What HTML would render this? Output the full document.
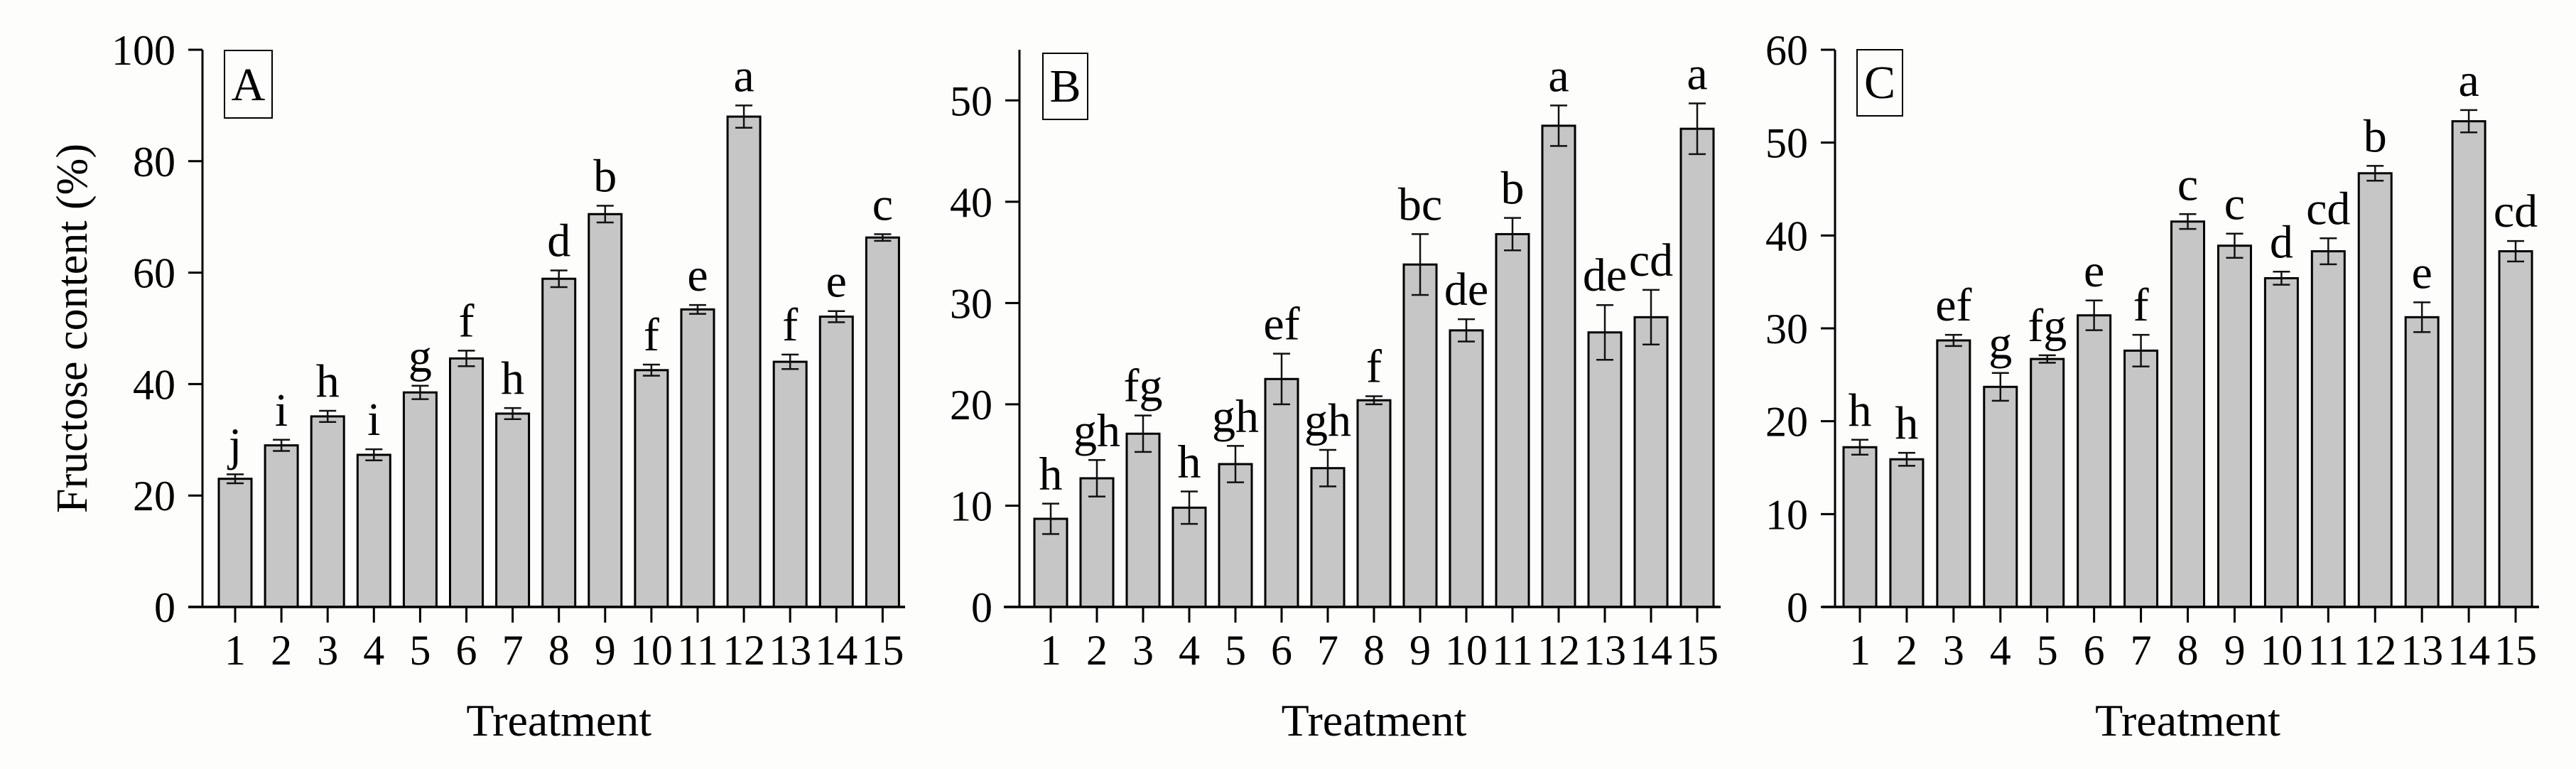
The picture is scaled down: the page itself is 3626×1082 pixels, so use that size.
<!DOCTYPE html>
<html><head><meta charset="utf-8"><style>
html,body{margin:0;padding:0;background:#fdfdfc;}
svg{display:block;font-family:"Liberation Serif",serif;}
</style></head><body>
<svg id="chart" width="3626" height="1082" viewBox="0 0 3626 1082" xmlns="http://www.w3.org/2000/svg">
<rect width="3626" height="1082" fill="#fdfdfc"/>
<text x="0" y="0" transform="translate(122,462) rotate(-90)" font-size="62" text-anchor="middle">Fructose content (%)</text>
</svg>
<script>
const categories = ["1","2","3","4","5","6","7","8","9","10","11","12","13","14","15"];
const valuesA = [23,29,34.2,27.3,38.5,44.6,34.7,58.9,70.5,42.5,53.4,88,44,52.1,66.3];
const errorsA = [0.8,1,1,1,1.2,1.4,1,1.5,1.5,1,0.8,2,1.3,1,0.6];
const lettersA = ["j","i","h","i","g","f","h","d","b","f","e","a","f","e","c"];
const ticksA = [0,20,40,60,80,100];
const valuesB = [8.7,12.7,17.1,9.8,14.1,22.5,13.7,20.4,33.8,27.3,36.8,47.5,27.1,28.6,47.2];
const errorsB = [1.5,1.8,1.8,1.6,1.8,2.5,1.8,0.4,3,1.1,1.6,2,2.7,2.7,2.5];
const lettersB = ["h","gh","fg","h","gh","ef","gh","f","bc","de","b","a","de","cd","a"];
const ticksB = [0,10,20,30,40,50];
const valuesC = [17.2,15.9,28.7,23.7,26.7,31.4,27.6,41.5,38.9,35.4,38.3,46.7,31.2,52.3,38.3];
const errorsC = [0.8,0.7,0.6,1.5,0.4,1.6,1.7,0.8,1.3,0.7,1.4,0.8,1.6,1.2,1.1];
const lettersC = ["h","h","ef","g","fg","e","f","c","c","d","cd","b","e","a","cd"];
const ticksC = [0,10,20,30,40,50,60];

const svg = document.getElementById('chart');
const NS = "http://www.w3.org/2000/svg";
function mk(tag, attrs, parent){
  const e = document.createElementNS(NS, tag);
  for (const k in attrs) e.setAttribute(k, attrs[k]);
  (parent||svg).appendChild(e);
  return e;
}
const panels = [
  {id:"a", label:"A", vals:valuesA, errs:errorsA, lets:lettersA, ticks:ticksA, ymax:100, axisX:285, x0:265, x1:1274, first:331, step:65.1, box:[316,71,383,166]},
  {id:"b", label:"B", vals:valuesB, errs:errorsB, lets:lettersB, ticks:ticksB, ymax:55, axisX:1435, x0:1413, x1:2422, first:1479, step:65.0, box:[1468,75,1531,168]},
  {id:"c", label:"C", vals:valuesC, errs:errorsC, lets:lettersC, ticks:ticksC, ymax:60, axisX:2583, x0:2565, x1:3574, first:2618, step:65.93, box:[2614,70,2678,163]}
];
const yTop = 70, yBot = 854;
panels.forEach(p => {
  const g = mk('g', {});
  
  
  const yScale = v => yBot - (v / p.ymax) * (yBot - yTop);
  const xScale = i => p.first + i * p.step;
  const bw = 46;
  p.vals.forEach((v, i) => {
    const cx = xScale(i), y = yScale(v);
    const r = mk('rect', {x: cx - bw/2, y: y, width: bw, height: yBot - y, fill: '#c6c6c6', stroke: '#000', 'stroke-width': 3}, g);
    
    
    const e = p.errs[i], yt = yScale(v + e), yb = yScale(v - e);
    const eb = mk('path', {d: `M${cx},${yt}V${yb}M${cx-12},${yt}H${cx+12}M${cx-12},${yb}H${cx+12}`, stroke: '#111', 'stroke-width': 2.5, fill: 'none'}, g);
    
    
    const t = mk('text', {x: cx, y: yt - 20, 'font-size': 66, 'text-anchor': 'middle'}, g);
    t.textContent = p.lets[i];
    
    
    const tk = mk('line', {x1: cx, x2: cx, y1: yBot, y2: yBot + 22, stroke: '#000', 'stroke-width': 3}, g);
    
    
    const tl = mk('text', {x: cx, y: yBot + 81, 'font-size': 60, 'text-anchor': 'middle'}, g);
    tl.textContent = categories[i];
    
    
  });
  p.ticks.forEach(t => {
    const y = yScale(t);
    const l = mk('line', {x1: p.axisX - 20, x2: p.axisX, y1: y, y2: y, stroke: '#000', 'stroke-width': 3}, g);
    
    
    const tx = mk('text', {x: p.axisX - 38, y: y + 21, 'font-size': 60, 'text-anchor': 'end'}, g);
    tx.textContent = t;
    
    
  });
  const ya = mk('line', {x1: p.axisX, x2: p.axisX, y1: yTop, y2: yBot, stroke: '#000', 'stroke-width': 3}, g);
  
  
  const xa = mk('line', {x1: p.x0, x2: p.x1, y1: yBot, y2: yBot, stroke: '#000', 'stroke-width': 3.5}, g);
  
  
  const b = p.box;
  const br = mk('rect', {x: b[0], y: b[1], width: b[2]-b[0], height: b[3]-b[1], fill: 'none', stroke: '#000', 'stroke-width': 2}, g);
  
  
  const bl = mk('text', {x: (b[0]+b[2])/2, y: b[3] - 25, 'font-size': 66, 'text-anchor': 'middle'}, g);
  bl.textContent = p.label;
  
  
  const xt = mk('text', {x: (p.first + xScale(14))/2, y: 1035, 'font-size': 64, 'text-anchor': 'middle'}, g);
  xt.textContent = 'Treatment';
  
  
});
</script>
</body></html>
